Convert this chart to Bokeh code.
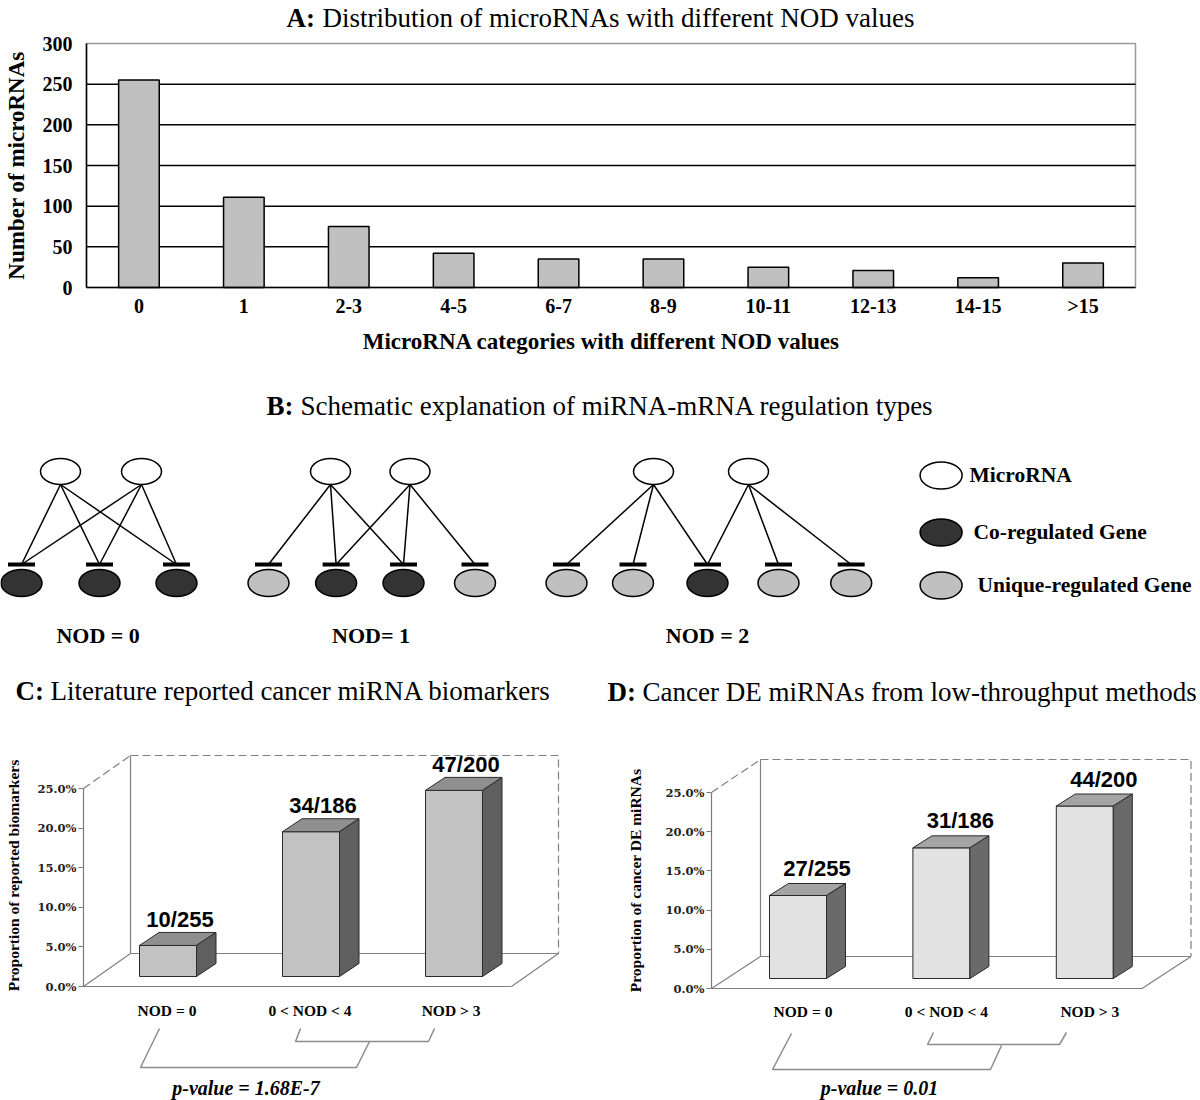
import math
from bokeh.plotting import figure
from bokeh.models import Range1d, FixedTicker, ColumnDataSource, PrintfTickFormatter, LinearAxis
from bokeh.embed import file_html
from bokeh.resources import INLINE
from bokeh.core.properties import value

# ---------------- data ----------------
nod_categories = ["0", "1", "2-3", "4-5", "6-7", "8-9", "10-11", "12-13", "14-15", ">15"]
mirna_counts = [255, 111, 75, 42, 35, 35, 25, 21, 12, 30]
count_ticks = [0, 50, 100, 150, 200, 250, 300]

group_labels_c = ["NOD = 0", "0 < NOD < 4", "NOD >  3"]
group_labels_d = ["NOD = 0", "0 < NOD < 4", "NOD > 3"]
group_sizes = [255, 186, 200]
biomarker_hits = [10, 34, 47]
de_hits = [27, 31, 44]
pct_ticks = [0, 5, 10, 15, 20, 25]
p_value_c = "p-value = 1.68E-7"
p_value_d = "p-value = 0.01"

legend_names = ["MicroRNA", "Co-regulated Gene", "Unique-regulated Gene"]
schematic_groups = [
    dict(name="NOD = 0", genes=[1, 1, 1],
         links=[(0, 0), (0, 1), (0, 2), (1, 0), (1, 1), (1, 2)]),
    dict(name="NOD= 1", genes=[0, 1, 1, 0],
         links=[(0, 0), (0, 1), (0, 2), (1, 1), (1, 2), (1, 3)]),
    dict(name="NOD = 2", genes=[0, 0, 1, 0, 0],
         links=[(0, 0), (0, 1), (0, 2), (1, 2), (1, 3), (1, 4)]),
]

SERIF = "Liberation Serif"
SANS = "Liberation Sans"
TICKF = "DejaVu Serif"
DARK = "#333333"
LIGHT = "#c0c0c0"

W, H = 1200, 1100
p = figure(width=W, height=H, x_range=Range1d(0, W), y_range=Range1d(H, 0),
           x_axis_type=None, y_axis_type=None, title=None, toolbar_location=None,
           output_backend="svg", min_border=0)
p.outline_line_color = None


def txt(x, y, s, size, style="normal", font=SERIF, align="left", baseline="middle",
        angle=0.0, **kw):
    p.text(x=[x], y=[y], text=[s], text_font=value(font), text_font_size=size,
           text_font_style=style, text_align=align, text_baseline=baseline, angle=angle,
           text_color="black", **kw)


def style_axis(ax, tick_font, tick_size, tick_color="black"):
    ax.major_label_text_font = tick_font
    ax.major_label_text_font_style = "bold"
    ax.major_label_text_font_size = tick_size
    ax.major_label_text_color = tick_color
    ax.axis_label_text_font = SERIF
    ax.axis_label_text_font_style = "bold"
    ax.axis_label_text_font_size = "23px"
    ax.axis_label_text_color = "black"
    ax.minor_tick_line_color = None


# ---------------- panel A ----------------
A_L, A_R, A_T, A_B = 86, 1135, 43, 287
n_cat = len(nod_categories)
a_ux = n_cat / (A_R - A_L)          # category units per pixel
a_uy = 300.0 / (A_B - A_T)          # counts per pixel
p.extra_x_ranges["ax"] = Range1d(-0.5 - A_L * a_ux, -0.5 + (W - A_L) * a_ux)
p.extra_y_ranges["ay"] = Range1d((A_B - H) * a_uy, A_B * a_uy)
akw = dict(x_range_name="ax", y_range_name="ay")

p.quad(left=[-0.5], right=[n_cat - 0.5], bottom=[0], top=[count_ticks[-1]], fill_color=None,
       line_color="#9a9a9a", line_width=1.5, **akw)
grid_ticks = count_ticks[1:-1]
p.segment(x0=[-0.5] * len(grid_ticks), x1=[n_cat - 0.5] * len(grid_ticks), y0=grid_ticks,
          y1=grid_ticks, line_color="black", line_width=1.5, **akw)
srcA = ColumnDataSource(dict(x=list(range(n_cat)), top=mirna_counts))
p.vbar(x="x", top="top", width=0.387, source=srcA, fill_color="#c0c0c0",
       line_color="black", line_width=1.5, **akw)

yaxA = LinearAxis(y_range_name="ay", fixed_location=A_L, bounds=(0, 300),
                  ticker=FixedTicker(ticks=count_ticks), axis_label="Number of microRNAs")
style_axis(yaxA, SERIF, "20px")
yaxA.axis_line_color = "black"
yaxA.axis_line_width = 1.5
yaxA.major_tick_line_color = None
yaxA.major_tick_out = 0
yaxA.major_tick_in = 0
yaxA.major_label_standoff = 14
yaxA.axis_label_standoff = 11
p.add_layout(yaxA, "left")

xaxA = LinearAxis(x_range_name="ax", fixed_location=A_B, bounds=(-0.5, n_cat - 0.5),
                  ticker=FixedTicker(ticks=list(range(n_cat))))
xaxA.major_label_overrides = {i: c for i, c in enumerate(nod_categories)}
style_axis(xaxA, SERIF, "20px")
xaxA.axis_line_color = "black"
xaxA.axis_line_width = 1.5
xaxA.major_tick_line_color = None
xaxA.major_tick_out = 0
xaxA.major_tick_in = 0
xaxA.major_label_standoff = 7
p.add_layout(xaxA, "below")
txt(601, 341, "MicroRNA categories with different NOD values", "23px", "bold", align="center")

txt(286, 17, "A:", "27px", "bold")
txt(322, 17, "Distribution of microRNAs with different NOD values", "27px")

# ---------------- panel B (schematic) ----------------
txt(266, 405, "B:", "27px", "bold")
txt(300, 405, "Schematic explanation of miRNA-mRNA regulation types", "27px")

MI_Y, MI_W, MI_H = 471, 40, 26
GENE_Y, GENE_W, GENE_H = 582.5, 41, 27
TBAR_Y, TBAR_HALF = 564, 13.5
NAME_Y = 635
group_layout = [
    dict(mx=[60, 141], gx=[21, 99, 176], name_x=97.6),
    dict(mx=[330, 409.5], gx=[268, 335.6, 403, 474.5], name_x=370.5),
    dict(mx=[653, 748], gx=[566, 632.5, 707, 778, 850.7], name_x=707),
]
for grp, lay in zip(schematic_groups, group_layout):
    x0s, y0s, x1s, y1s = [], [], [], []
    for mi, gi in grp["links"]:
        x0s.append(lay["mx"][mi]); y0s.append(MI_Y + MI_H / 2)
        x1s.append(lay["gx"][gi]); y1s.append(TBAR_Y)
    p.segment(x0=x0s, y0=y0s, x1=x1s, y1=y1s, line_color="black", line_width=1.5)
    ng = len(lay["gx"])
    p.segment(x0=[g - TBAR_HALF for g in lay["gx"]], y0=[TBAR_Y] * ng,
              x1=[g + TBAR_HALF for g in lay["gx"]], y1=[TBAR_Y] * ng,
              line_color="black", line_width=4)
    p.ellipse(x=lay["mx"], y=[MI_Y] * len(lay["mx"]), width=MI_W, height=MI_H,
              fill_color="white", line_color="black", line_width=1.5)
    p.ellipse(x=lay["gx"], y=[GENE_Y] * ng, width=GENE_W, height=GENE_H,
              fill_color=[DARK if s else LIGHT for s in grp["genes"]],
              line_color="black", line_width=1.5)
    txt(lay["name_x"], NAME_Y, grp["name"], "22px", "bold", align="center")

leg_y = [475, 532, 585]
leg_tx = [969, 973, 977]
p.ellipse(x=[940.6] * 3, y=leg_y, width=42, height=27, fill_color=["white", DARK, LIGHT],
          line_color="black", line_width=1.5)
for name, yy, tx in zip(legend_names, leg_y, leg_tx):
    txt(tx, yy - 0.5, name, "21.5px", "bold")


# ---------------- panels C / D (3-D bars) ----------------
def add_3d(key, g, hits, group_labels, ylabel, title_bold, title_rest, pval, col):
    X = lambda px: (px - g["c0"]) / g["step"]
    Y = lambda py: (g["zero"] - py) / g["ppp"]
    p.extra_x_ranges[key + "x"] = Range1d(X(0), X(W))
    p.extra_y_ranges[key + "y"] = Range1d(Y(H), Y(0))
    kw = dict(x_range_name=key + "x", y_range_name=key + "y")

    ax = LinearAxis(y_range_name=key + "y", fixed_location=g["axis"], bounds=(0, 25),
                    ticker=FixedTicker(ticks=pct_ticks),
                    formatter=PrintfTickFormatter(format="%.1f%%"))
    style_axis(ax, TICKF, "11.5px", "#222222")
    ax.axis_line_color = "#7a7a7a"
    ax.axis_line_width = 1.2
    ax.major_tick_line_color = "#7a7a7a"
    ax.major_tick_out = 5
    ax.major_tick_in = 0
    ax.major_label_standoff = 2
    p.add_layout(ax, "left")
    txt(g["ylab_x"], g["ylab_y"], ylabel, "15.5px", "bold", align="center",
        angle=math.pi / 2)

    a, z = g["axis"], g["zero"]
    fr = g["floor_right"]
    ddx, ddy = g["depth"]
    wt = g["wall_top"]
    top25 = z - 25 * g["ppp"]
    solid = [[(a, z), (fr, z)], [(a, z), (a + ddx, z - ddy)], [(fr, z), (fr + ddx, z - ddy)],
             [(a + ddx, z - ddy), (fr + ddx, z - ddy)], [(a + ddx, z - ddy), (a + ddx, wt)]]
    dashed = [[(a + ddx, wt), (fr + ddx, wt), (fr + ddx, z - ddy)], [(a, top25), (a + ddx, wt)]]
    p.multi_line(xs=[[q[0] for q in s] for s in solid], ys=[[q[1] for q in s] for s in solid],
                 line_color="#808080", line_width=1.2)
    p.multi_line(xs=[[q[0] for q in s] for s in dashed], ys=[[q[1] for q in s] for s in dashed],
                 line_color="#808080", line_width=1.2, line_dash="8 4")

    pct = [100.0 * h / n for h, n in zip(hits, group_sizes)]
    hw = g["bar_half"] / g["step"]
    bdx = g["bar_dx"] / g["step"]
    bdy = g["bar_dy"] / g["ppp"]
    b0 = g["base"] / g["ppp"]
    idx = list(range(len(pct)))
    lefts = [i - hw for i in idx]
    rights = [i + hw for i in idx]
    tops = [b0 + v for v in pct]
    p.quad(left=lefts, right=rights, bottom=[b0] * len(idx), top=tops,
           fill_color=col["front"], line_color="#2a2a2a", line_width=1, **kw)
    p.patches(xs=[[l, r, r + bdx, l + bdx] for l, r in zip(lefts, rights)],
              ys=[[t, t, t + bdy, t + bdy] for t in tops],
              fill_color=col["top"], line_color="#2a2a2a", line_width=1, **kw)
    p.patches(xs=[[r, r + bdx, r + bdx, r] for r in rights],
              ys=[[b0, b0 + bdy, t + bdy, t] for t in tops],
              fill_color=col["side"], line_color="#2a2a2a", line_width=1, **kw)
    p.text(x=[i + g["lab_dx"] / g["step"] for i in idx],
           y=[t + g["lab_dy"] / g["ppp"] for t in tops],
           text=["%d/%d" % (h, n) for h, n in zip(hits, group_sizes)],
           text_font=value(SANS), text_font_style="bold", text_font_size="22px",
           text_align="center", text_baseline="middle", text_color="black", **kw)
    p.text(x=[i + g["cat_dx"] / g["step"] for i in idx], y=[Y(g["cat_y"])] * len(idx),
           text=group_labels, text_font=value(SERIF), text_font_style="bold",
           text_font_size="15.5px", text_align="center", text_baseline="middle",
           text_color="black", **kw)
    p.multi_line(xs=[[q[0] for q in b] for b in g["brackets"]],
                 ys=[[q[1] for q in b] for b in g["brackets"]],
                 line_color="#8c8c8c", line_width=1.5)
    txt(g["pval_x"], 1087, pval, "20px", "bold italic", align="center")
    txt(g["title_x"], g["title_y"], title_bold, g["title_size"], "bold")
    txt(g["title_x2"], g["title_y"], title_rest, g["title_size"])


geo_c = dict(axis=83, zero=986, ppp=7.92, c0=167.5, step=143, floor_right=511,
             depth=(47, 33), wall_top=755, bar_half=28.5, bar_dx=19.5, bar_dy=13, base=10,
             lab_dx=12, lab_dy=26, cat_dx=-1, cat_y=1010, ylab_x=13, ylab_y=875,
             brackets=[[(300, 1028), (295, 1041), (428, 1041), (434, 1028)],
                       [(159, 1028), (140, 1067), (356, 1067), (369, 1041)]],
             pval_x=245.5, title_x=15, title_x2=50, title_y=690, title_size="27px")
geo_d = dict(axis=711, zero=988, ppp=7.84, c0=797.5, step=143.4, floor_right=1141.5,
             depth=(49, 32), wall_top=759, bar_half=28.5, bar_dx=19, bar_dy=12, base=10,
             lab_dx=19, lab_dy=27, cat_dx=5, cat_y=1011, ylab_x=635, ylab_y=880,
             brackets=[[(933, 1032), (927, 1044), (1059, 1044), (1066, 1032)],
                       [(791, 1033), (772, 1069), (990, 1069), (1001, 1045)]],
             pval_x=879, title_x=607, title_x2=642, title_y=691.5, title_size="27px")

add_3d("c", geo_c, biomarker_hits, group_labels_c, "Proportion of reported biomarkers",
       "C:", "Literature reported cancer miRNA biomarkers", p_value_c,
       dict(front="#c2c2c2", top="#8f8f8f", side="#5f5f5f"))
add_3d("d", geo_d, de_hits, group_labels_d, "Proportion of cancer DE miRNAs",
       "D:", "Cancer DE miRNAs from low-throughput methods", p_value_d,
       dict(front="#e2e2e2", top="#a4a4a4", side="#6a6a6a"))

open("out.html", "w").write(file_html(p, INLINE))
